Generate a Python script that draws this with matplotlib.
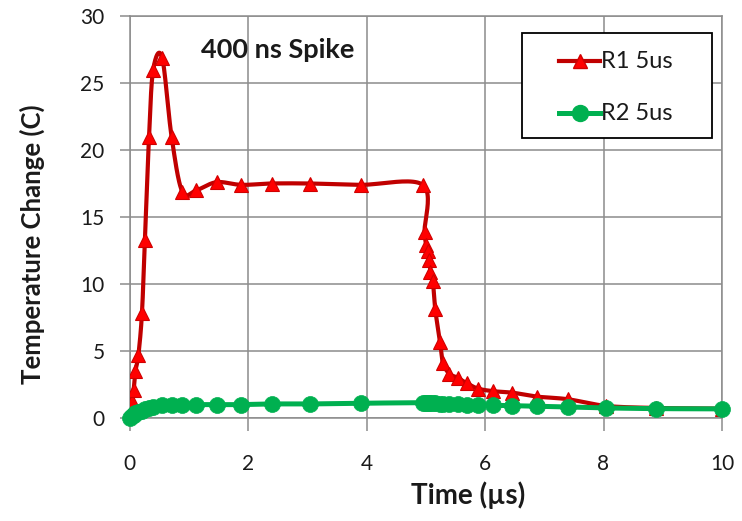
import numpy as np
import matplotlib
matplotlib.use("Agg")
import matplotlib.pyplot as plt
from matplotlib.lines import Line2D
from matplotlib.patches import Rectangle

# Shared sampling times (µs) for both resistor traces
time_us = [0.0, 0.04, 0.07, 0.10, 0.15, 0.21, 0.26, 0.33, 0.40, 0.55,
           0.71, 0.89, 1.13, 1.47, 1.89, 2.40, 3.04, 3.90, 4.95, 4.98,
           5.01, 5.04, 5.06, 5.08, 5.12, 5.16, 5.24, 5.29, 5.40, 5.54,
           5.69, 5.88, 6.14, 6.45, 6.87, 7.40, 8.05, 8.89, 10.0]

# Temperature change (C)
r1_5us = [0.3, 1.3, 2.1, 3.5, 4.7, 7.8, 13.3, 21.0, 26.0, 26.9,
          21.0, 16.9, 17.0, 17.6, 17.4, 17.5, 17.5, 17.4, 17.4, 13.9,
          12.9, 12.5, 11.8, 10.9, 10.2, 8.1, 5.7, 4.1, 3.3, 3.0,
          2.6, 2.2, 2.0, 1.9, 1.6, 1.4, 0.9, 0.75, 0.7]

r2_5us = [0.0, 0.15, 0.25, 0.35, 0.45, 0.55, 0.65, 0.75, 0.85, 0.95,
          1.0, 1.0, 1.0, 1.0, 1.0, 1.05, 1.05, 1.1, 1.15, 1.15,
          1.15, 1.15, 1.12, 1.12, 1.1, 1.1, 1.08, 1.05, 1.05, 1.02,
          1.0, 1.0, 0.95, 0.92, 0.88, 0.82, 0.75, 0.7, 0.68]

series_labels = ["R1 5us", "R2 5us"]
x_ticks = [0, 2, 4, 6, 8, 10]
y_ticks = [0, 5, 10, 15, 20, 25, 30]

FONT = "Lato"
RED_LINE = "#c00000"
RED_FILL = "#ff0000"
GREEN = "#00b050"
GRID = "#8c8c8c"
INK = "#1a1a1a"

W, H = 742, 521
fig = plt.figure(figsize=(W / 100, H / 100), dpi=100)


def fx(px):
    return px / W


def fy(py):
    return 1 - py / H


ax = fig.add_axes([fx(129.5), fy(418), fx(722) - fx(129.5), fy(16) - fy(418)])
ax.set_xlim(0, 10)
ax.set_ylim(0, 30)


def smooth(x, y, sx, sy, n=24):
    """Excel-style smoothed line (Catmull-Rom Bezier) computed in screen units."""
    P = np.column_stack([np.asarray(x, float) * sx, np.asarray(y, float) * sy])
    ext = np.vstack([P[0], P, P[-1]])
    t = np.linspace(0, 1, n)[1:, None]
    out = [P[:1]]
    for i in range(len(P) - 1):
        p0, p1, p2, p3 = ext[i], ext[i + 1], ext[i + 2], ext[i + 3]
        c1 = p1 + (p2 - p0) / 6
        c2 = p2 - (p3 - p1) / 6
        seg = ((1 - t) ** 3) * p1 + 3 * ((1 - t) ** 2) * t * c1 \
            + 3 * (1 - t) * t ** 2 * c2 + t ** 3 * p2
        out.append(seg)
    Q = np.vstack(out)
    return Q[:, 0] / sx, Q[:, 1] / sy


SX, SY = 59.25, 13.4
TRI_MS, DOT_MS = 9.5, 11.5

# R1 trace: smoothed red line with triangle markers
rx, ry = smooth(time_us, r1_5us, SX, SY)
ax.plot(rx, ry, color=RED_LINE, lw=3.0, zorder=3, solid_capstyle="round")
ax.plot(time_us, r1_5us, ls="none", marker="^", ms=TRI_MS, mfc=RED_FILL,
        mec="#d00000", mew=0.8, zorder=4)

# R2 trace: smoothed green line with circle markers
gx, gy = smooth(time_us, r2_5us, SX, SY)
ax.plot(gx, gy, color=GREEN, lw=3.6, zorder=5, solid_capstyle="round")
ax.plot(time_us, r2_5us, ls="none", marker="o", ms=DOT_MS, mfc=GREEN,
        mec=GREEN, mew=0.5, zorder=6, clip_on=False)

ax.set_xticks(x_ticks)
ax.set_yticks(y_ticks)
ax.set_xticklabels([str(v) for v in x_ticks], fontfamily=FONT)
ax.set_yticklabels([str(v) for v in y_ticks], fontfamily=FONT)
ax.tick_params(axis="both", direction="out", color=GRID, width=1.1,
               labelsize=15, labelcolor=INK)
ax.tick_params(axis="y", length=7, pad=11)
ax.tick_params(axis="x", length=9, pad=17)

ax.grid(True, color=GRID, lw=1.1)
ax.set_axisbelow(True)
for s in ax.spines.values():
    s.set_color(GRID)
    s.set_linewidth(1.1)

fig.text(fx(32), fy(244), "Temperature Change (C)", rotation=90,
         ha="center", va="center", fontsize=18.5, fontweight="bold",
         fontfamily=FONT, color=INK)
fig.text(fx(468), fy(495), "Time (\u00b5s)", ha="center", va="center",
         fontsize=20, fontweight="bold", fontfamily=FONT, color=INK)
fig.text(fx(278), fy(50), "400 ns Spike", ha="center", va="center",
         fontsize=19.5, fontweight="bold", fontfamily=FONT, color=INK)

# Legend box
fig.add_artist(Rectangle((fx(522), fy(138)), fx(712) - fx(522), fy(33) - fy(138),
                         transform=fig.transFigure, facecolor="white",
                         edgecolor="black", lw=1.3, zorder=10))
fig.add_artist(Line2D([fx(559), fx(600)], [fy(61), fy(61)], color=RED_LINE, lw=3.0,
                      transform=fig.transFigure, zorder=11))
fig.add_artist(Line2D([fx(579.5)], [fy(61)], ls="none", marker="^", ms=TRI_MS,
                      mfc=RED_FILL, mec="#d00000", transform=fig.transFigure, zorder=12))
fig.add_artist(Line2D([fx(559), fx(600)], [fy(113), fy(113)], color=GREEN, lw=3.6,
                      transform=fig.transFigure, zorder=11))
fig.add_artist(Line2D([fx(579.5)], [fy(113)], ls="none", marker="o", ms=DOT_MS,
                      mfc=GREEN, mec=GREEN, transform=fig.transFigure, zorder=12))
for label, ypx in zip(series_labels, [61, 113]):
    fig.text(fx(601), fy(ypx), label, ha="left", va="center", fontsize=17,
             fontfamily=FONT, color=INK, zorder=12)

fig.savefig("out.png", dpi=100)
